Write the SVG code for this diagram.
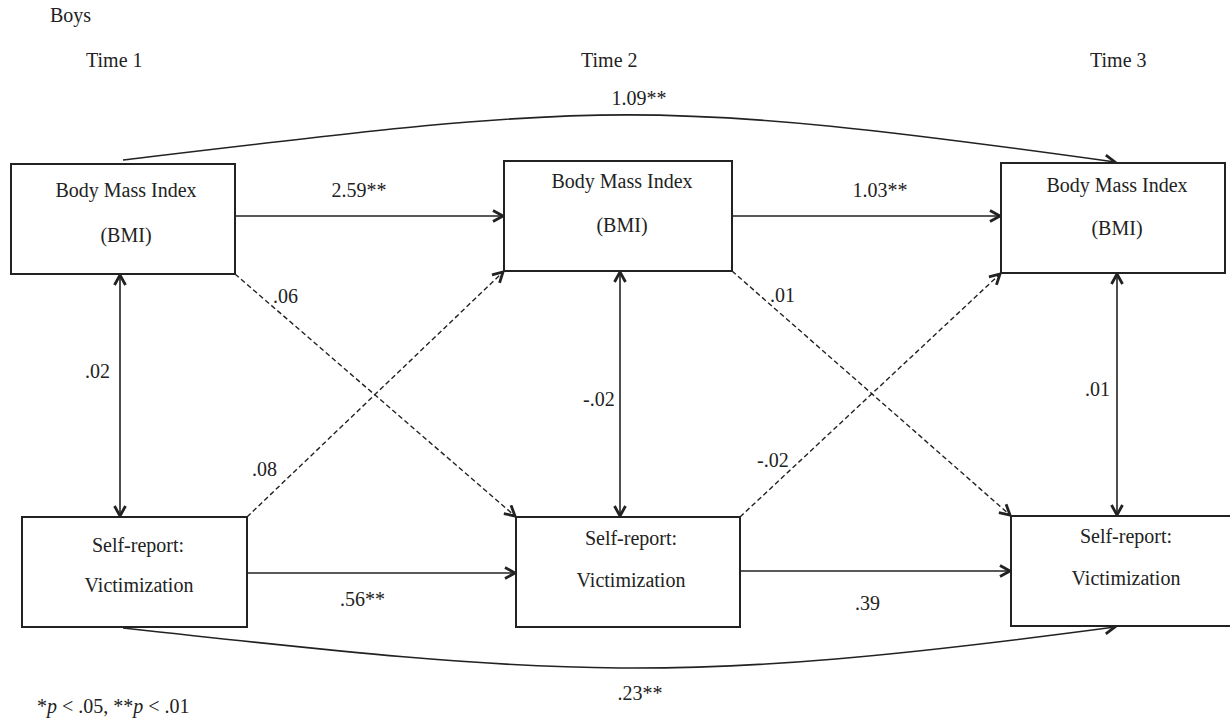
<svg xmlns="http://www.w3.org/2000/svg" width="1230" height="721" viewBox="0 0 1230 721" font-family="'Liberation Serif', 'Times New Roman', Times, serif" font-size="20">
<style>
text{font-family:'Liberation Serif','Times New Roman',Times,serif;font-size:20px;fill:#222}
.box{fill:#fff;stroke:#222;stroke-width:2}
.ln{fill:none;stroke:#222;stroke-width:1.6}
.ds{fill:none;stroke:#222;stroke-width:1.4;stroke-dasharray:5,3}
.c{text-anchor:middle}
</style>
<defs>
<marker id="ah" viewBox="0 0 14 14" refX="12" refY="7" markerWidth="14" markerHeight="14" orient="auto-start-reverse" markerUnits="userSpaceOnUse">
<path d="M2,1.5 L12,7 L2,12.5" fill="none" stroke="#222" stroke-width="2.8"/>
</marker>
</defs>
<rect width="1230" height="721" fill="#fff"/>
<text x="50" y="22">Boys</text>
<text x="86" y="67">Time 1</text>
<text x="581" y="67">Time 2</text>
<text x="1090" y="67">Time 3</text>

<g id="connectors">
<path class="ln" d="M123,160 C600,103 640,96 1115,162" marker-end="url(#ah)"/>
<path class="ln" d="M123,628 C568,677 672,686 1115,627" marker-end="url(#ah)"/>
<line class="ln" x1="235" y1="216" x2="503" y2="216" marker-end="url(#ah)"/>
<line class="ln" x1="732" y1="216" x2="1000" y2="216" marker-end="url(#ah)"/>
<line class="ln" x1="247" y1="573" x2="515" y2="573" marker-end="url(#ah)"/>
<line class="ln" x1="740" y1="571" x2="1010" y2="571" marker-end="url(#ah)"/>
<line class="ln" x1="120" y1="275" x2="120" y2="516" marker-start="url(#ah)" marker-end="url(#ah)"/>
<line class="ln" x1="620" y1="272" x2="620" y2="516" marker-start="url(#ah)" marker-end="url(#ah)"/>
<line class="ln" x1="1117" y1="274" x2="1117" y2="515" marker-start="url(#ah)" marker-end="url(#ah)"/>
<line class="ds" x1="235" y1="274" x2="515" y2="516" marker-end="url(#ah)"/>
<line class="ds" x1="247" y1="517" x2="503" y2="272" marker-end="url(#ah)"/>
<line class="ds" x1="732" y1="271" x2="1010" y2="515" marker-end="url(#ah)"/>
<line class="ds" x1="740" y1="517" x2="1000" y2="274" marker-end="url(#ah)"/>
<text x="639" y="105" class="c">1.09**</text>
<text x="359" y="197" class="c">2.59**</text>
<text x="880" y="197" class="c">1.03**</text>
<text x="273" y="303">.06</text>
<text x="252" y="476">.08</text>
<text x="770" y="302">.01</text>
<text x="757" y="467">-.02</text>
<text x="85" y="378">.02</text>
<text x="583" y="406">-.02</text>
<text x="1085" y="396">.01</text>
<text x="340" y="606">.56**</text>
<text x="855" y="610">.39</text>
<text x="640" y="700" class="c">.23**</text>
</g>

<g id="bmi1"><rect class="box" x="11" y="164" width="224" height="110"/><text x="126" y="197" class="c">Body Mass Index</text><text x="126" y="242" class="c">(BMI)</text></g>
<g id="bmi2"><rect class="box" x="504" y="161" width="228" height="110"/><text x="622" y="188" class="c">Body Mass Index</text><text x="622" y="232" class="c">(BMI)</text></g>
<g id="bmi3"><rect class="box" x="1001" y="163" width="224" height="110"/><text x="1117" y="192" class="c">Body Mass Index</text><text x="1117" y="235" class="c">(BMI)</text></g>
<g id="vic1"><rect class="box" x="22" y="517" width="225" height="110"/><text x="138" y="552" class="c">Self-report:</text><text x="139" y="592" class="c">Victimization</text></g>
<g id="vic2"><rect class="box" x="516" y="517" width="224" height="110"/><text x="631" y="545" class="c">Self-report:</text><text x="631" y="587" class="c">Victimization</text></g>
<g id="vic3"><rect class="box" x="1011" y="516" width="230" height="110"/><text x="1126" y="543" class="c">Self-report:</text><text x="1126" y="585" class="c">Victimization</text></g>

<text x="37" y="713">*<tspan font-style="italic">p</tspan> &lt; .05, **<tspan font-style="italic">p</tspan> &lt; .01</text>
</svg>
